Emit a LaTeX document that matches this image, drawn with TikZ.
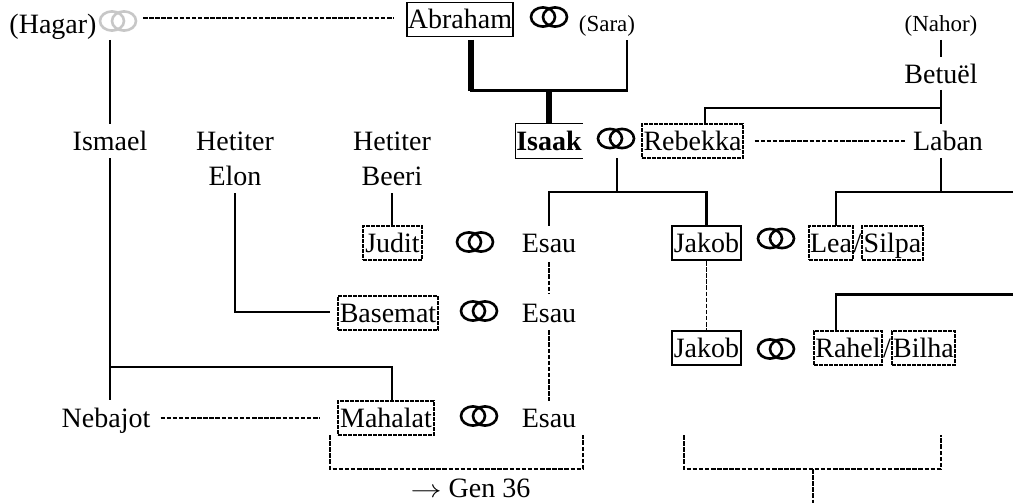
\documentclass[tikz,border=0pt]{standalone}
\usepackage{fontspec}
\setmainfont{Liberation Serif}
\usetikzlibrary{calc}
\tikzset{person/.style={inner xsep=0pt,inner ysep=2pt,text height=24pt,text depth=6pt,font=\fontsize{28}{32}\selectfont}}
\tikzset{smallperson/.style={person,font=\fontsize{23}{27}\selectfont}}
\tikzset{solidbox/.style={person,draw,line width=2pt}}
\tikzset{dashbox/.style={person,draw,line width=2pt,dash pattern=on 3.6pt off 1.4pt}}
\tikzset{kinline/.style={line width=2.2pt}}
\tikzset{heirline/.style={line width=6pt}}
\tikzset{laterline/.style={line width=1.6pt,dash pattern=on 4.5pt off 1.6pt}}
\newcommand{\ringpair}[2][black]{
  \draw [#1,line width=2.6pt] ($(#2)+(-6,0)$) ellipse (12 and 9.6);
  \draw [#1,line width=2.6pt] ($(#2)+(6,0)$) ellipse (12 and 9.6);
}

\begin{document}
\begin{tikzpicture}[x=1pt,y=-1pt]
  \useasboundingbox (0,0) rectangle (1013,503);

  % first generation
  \node [person] (hagar) at (53,25) {(Hagar)};
  \node [solidbox,line width=1.3pt,minimum width=106pt] (abraham) at (460,19.5) {Abraham};
  \node [smallperson] (sara) at (607,23) {(Sara)};
  \node [smallperson] (nahor) at (941,23) {(Nahor)};
  \node [person] (betuel) at (941,74.5) {Betuël};

  % second generation
  \node [person] (ismael) at (110,141) {Ismael};
  \node [person] (hetiterelon) at (235,141) {Hetiter};
  \node [person] (elon) at (235,176) {Elon};
  \node [person] (hetiterbeeri) at (392,141) {Hetiter};
  \node [person] (beeri) at (392,176) {Beeri};
  \node [person,minimum width=67pt] (isaak) at (549,141) {\textbf{Isaak}};
  \node [dashbox,line width=1.3pt,minimum width=101pt] (rebekka) at (692.5,141) {Rebekka};
  \node [person] (laban) at (948,141) {Laban};

  % third generation
  \node [dashbox,minimum width=59pt] (judit) at (392.5,243) {Judit};
  \node [person] (esaua) at (549,243) {Esau};
  \node [solidbox,minimum width=69pt] (jakoba) at (706.5,243) {Jakob};
  \node [dashbox,line width=1.6pt,minimum width=44pt] (lea) at (831,243) {Lea};
  \node [person] (slasha) at (857.5,243) {/};
  \node [dashbox,minimum width=61pt] (silpa) at (892.5,243) {Silpa};
  \node [dashbox,minimum width=100pt] (basemat) at (388,313) {Basemat};
  \node [person] (esaub) at (549,313) {Esau};
  \node [solidbox,minimum width=69pt] (jakobb) at (706.5,348) {Jakob};
  \node [dashbox,line width=1.6pt,minimum width=68pt] (rahel) at (848,348) {Rahel};
  \node [person] (slashb) at (887,348) {/};
  \node [dashbox,line width=1.6pt,minimum width=63pt] (bilha) at (923.5,348) {Bilha};
  \node [person] (nebajot) at (106,418) {Nebajot};
  \node [dashbox,minimum width=96pt] (mahalat) at (386,418) {Mahalat};
  \node [person] (esauc) at (549,418) {Esau};
  \node [person] (gen) at (470.5,488) {\scalebox{1.25}[1]{$\rightarrow$} Gen 36};

  \coordinate (ringhagar) at (118,21);
  \coordinate (ringabraham) at (549,17);
  \coordinate (ringisaak) at (616,138.5);
  \coordinate (ringjudit) at (475,242);
  \coordinate (ringjakoba) at (776,238.5);
  \coordinate (ringbasemat) at (479,311);
  \coordinate (ringjakobb) at (776,349);
  \coordinate (ringmahalat) at (479,416);
  \ringpair[black!22]{ringhagar}
  \ringpair{ringabraham}
  \ringpair{ringisaak}
  \ringpair{ringjudit}
  \ringpair{ringjakoba}
  \ringpair{ringbasemat}
  \ringpair{ringjakobb}
  \ringpair{ringmahalat}

  % open box round Isaak
  \draw [line width=1.1pt] (isaak.north east) -- (isaak.north west) -- (isaak.south west) -- (isaak.south east);

  \coordinate (hagarright) at (143,18.3);
  \coordinate (hagardown)  at (110,40);
  \coordinate (abrahamdown) at (471,40);
  \coordinate (abrahamjoin) at (471,91);
  \coordinate (saradown) at (627,40);
  \coordinate (isaakup) at (549,91);
  \coordinate (nahordown) at (941,40);
  \coordinate (betueldown) at (941,90);
  \coordinate (rebekkaup) at (705,124);
  \coordinate (labanup) at (941,124);
  \coordinate (rebekkajoin) at (941,108);
  \coordinate (labandown) at (941,158);
  \coordinate (labanjoin) at (941,192);
  \coordinate (leaup) at (836,226);
  \coordinate (labanoff) at (1013,192);
  \coordinate (rahelup) at (836,331);
  \coordinate (raheloff) at (1013,294.5);
  \coordinate (isaakdown) at (617,158);
  \coordinate (isaakjoin) at (617,192);
  \coordinate (ismaeljoin) at (110,367);
  \coordinate (nebajotup) at (110,400);
  \coordinate (basematleft) at (330,312);

  % descent
  \draw [kinline] (hagardown) -- (ismael.north);
  \draw [kinline] (ismael.south) -- (nebajotup);
  \draw [kinline] (ismaeljoin) -| (mahalat.north -| beeri);
  \draw [kinline] (elon.south) |- (basematleft);
  \draw [kinline] (beeri.south) -- (beeri |- judit.north);
  \draw [heirline] (abrahamdown) -- (abrahamjoin);
  \draw [heirline] (isaakup) -- (isaak.north);
  \draw [kinline] (470,90.5) -| (saradown);
  \draw [kinline] (nahordown) -- (betuel.north);
  \draw [kinline] (betueldown) -- (labanup);
  \draw [kinline] (rebekkajoin) -| (rebekkaup);
  \draw [kinline] (labandown) -- (labanjoin);
  \draw [kinline] (leaup) |- (labanoff);
  \draw [kinline] (rahelup) |- (raheloff);
  \draw [kinline] (isaakdown) -- (isaakjoin);
  \draw [kinline] (esaua.north) |- (isaakjoin);
  \draw [kinline] (isaakjoin) -| (jakoba.north);

  % same person, or later lines
  \draw [laterline] (hagarright) -- ($(hagarright -| abraham.west)+(-13,0)$);
  \draw [laterline,shorten <=11pt,shorten >=8pt] (rebekka.east) -- (laban.west);
  \draw [laterline,shorten <=10pt,shorten >=17pt] (nebajot.east) -- (mahalat.west);
  \draw [laterline,shorten <=2pt,shorten >=2pt] (esaua.south) -- (esaub.north);
  \draw [laterline] (esaub.south) -- (esauc.north);
  \draw [laterline] (jakoba.south) -- (jakobb.north);

  % brackets at the foot
  \coordinate (bracketa) at (330,435);
  \coordinate (bracketb) at (583,435);
  \coordinate (bracketc) at (684,435);
  \coordinate (bracketd) at (941,435);
  \coordinate (bracketmid) at (813,469);
  \coordinate (bracketfoot) at (813,503);
  \draw [laterline] (bracketa) |- (583,469) -- (bracketb);
  \draw [laterline] (bracketc) |- (941,469) -- (bracketd);
  \draw [laterline] (bracketmid) -- (bracketfoot);
\end{tikzpicture}
\end{document}
